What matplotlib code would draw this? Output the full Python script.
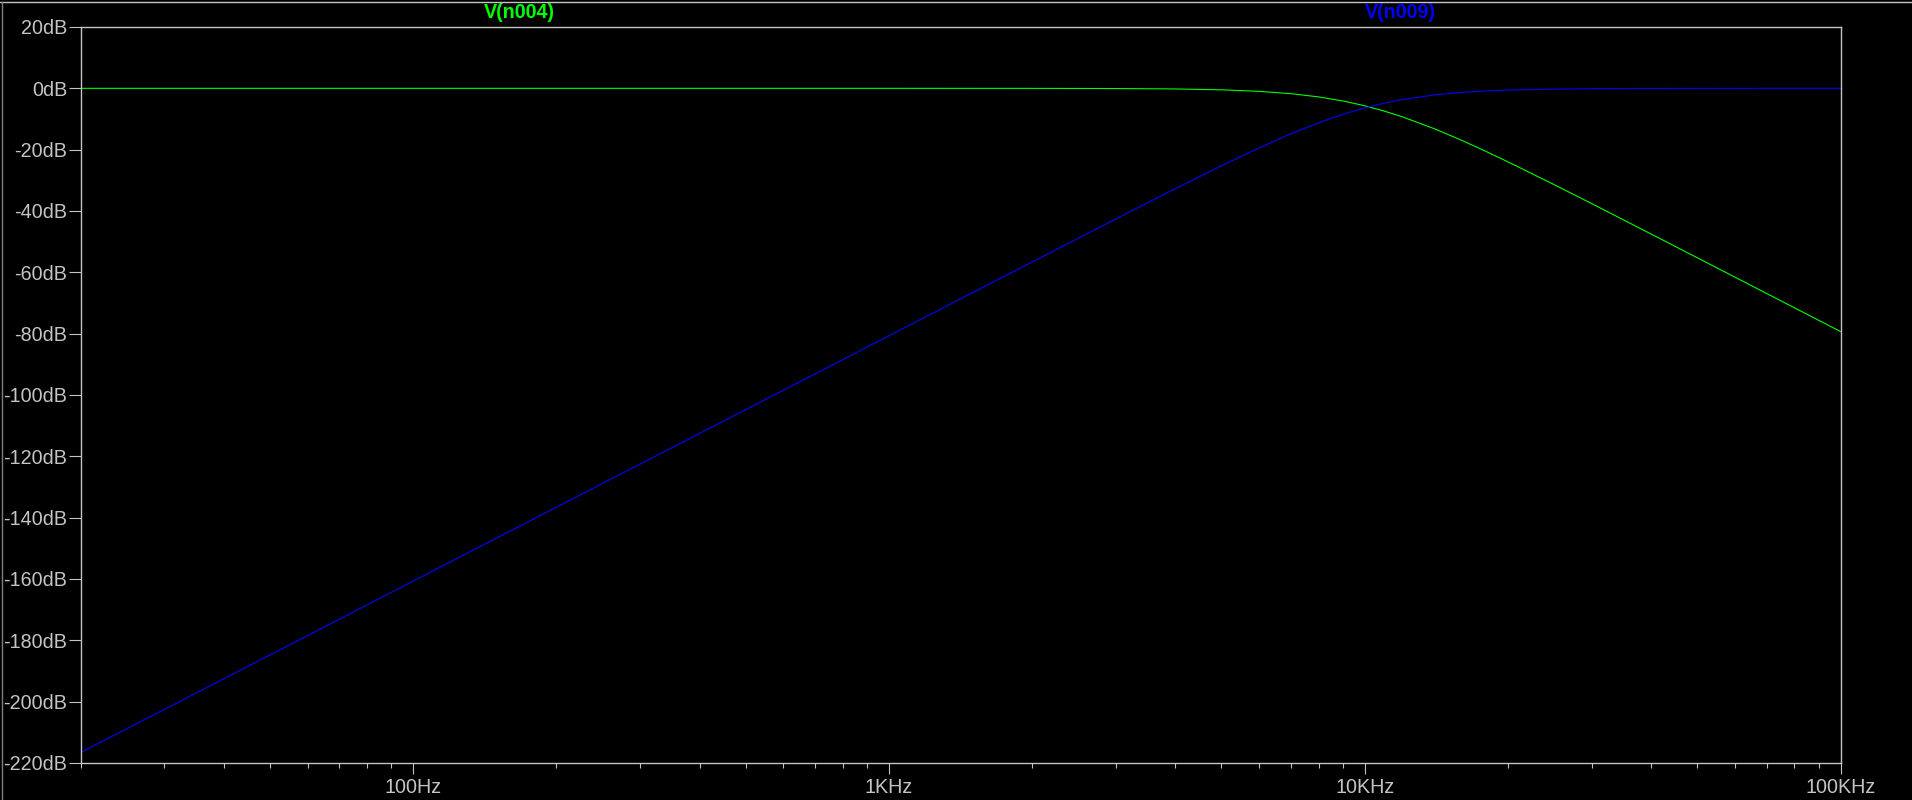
import matplotlib
matplotlib.use("Agg")
import matplotlib.pyplot as plt
from matplotlib.ticker import FixedLocator, FixedFormatter, NullFormatter
from matplotlib.lines import Line2D

# ---- data ----
freq_hz = [20, 50, 100, 200, 500, 1000, 2000, 3000, 4000, 5000, 6000, 7000,
           8000, 9000, 10000, 11000, 12000, 14000, 16000, 18000, 20000,
           25000, 30000, 40000, 50000, 70000, 100000]
v_n004_db = [0.0, 0.0, 0.0, 0.0, 0.0, 0.0, -0.01, -0.07, -0.20, -0.49, -0.98, -1.74,
             -2.79, -4.12, -5.68, -7.43, -9.29, -13.16, -16.97, -20.59, -23.97,
             -31.39, -37.59, -47.52, -55.24, -66.92, -79.31]
v_n009_db = [-216.6, -184.8, -160.7, -136.6, -104.8, -80.7, -56.62, -42.58, -32.73,
             -25.26, -19.42, -14.82, -11.23, -8.47, -6.37, -4.81, -3.65, -2.16,
             -1.33, -0.85, -0.57, -0.24, -0.12, -0.04, -0.02, 0.0, 0.0]
trace_names = ["V(n004)", "V(n009)"]
trace_colors = ["#00ff00", "#0000ff"]

y_ticks = list(range(20, -221, -20))
y_tick_labels = [f"{v}dB" for v in y_ticks]
x_major = [100, 1000, 10000, 100000]
x_major_labels = ["100Hz", "1KHz", "10KHz", "100KHz"]
x_minor = [m * d for d in (10, 100, 1000, 10000) for m in range(2, 10) if 20 <= m * d <= 100000]

# ---- figure ----
W, H = 1912, 800
fig = plt.figure(figsize=(W / 100, H / 100), dpi=100, facecolor="black")
L, R, T, B = 80.5, 1840.5, 27, 763
ax = fig.add_axes([L / W, (H - B) / H, (R - L) / W, (B - T) / H], facecolor="black")

grey = "#c4c4c4"
ax.semilogx(freq_hz, v_n004_db, color=trace_colors[0], lw=0.8)
ax.semilogx(freq_hz, v_n009_db, color=trace_colors[1], lw=0.8)

ax.set_xlim(20, 100000)
ax.set_ylim(-220, 20)

for s in ax.spines.values():
    s.set_color(grey)
    s.set_linewidth(1.0)

font = ["Liberation Sans", "DejaVu Sans"]
fs = 14.2
ax.yaxis.set_major_locator(FixedLocator(y_ticks))
ax.yaxis.set_major_formatter(FixedFormatter(y_tick_labels))
ax.xaxis.set_major_locator(FixedLocator(x_major))
ax.xaxis.set_major_formatter(FixedFormatter(x_major_labels))
ax.xaxis.set_minor_locator(FixedLocator(x_minor))
ax.xaxis.set_minor_formatter(NullFormatter())
ax.yaxis.set_minor_locator(FixedLocator([]))

ax.tick_params(axis="y", which="major", direction="out", length=8.6, width=0.8,
               color=grey, labelcolor=grey, labelsize=fs, pad=1)
ax.tick_params(axis="x", which="major", direction="out", length=8, width=0.8,
               color=grey, labelcolor=grey, labelsize=fs, pad=2.5)
ax.tick_params(axis="x", which="minor", direction="out", length=3.6, width=0.8,
               color=grey)
for lab in ax.get_xticklabels() + ax.get_yticklabels():
    lab.set_family(font)

# trace labels above the plot
ax.text(519 / W, 1 - 13 / H, trace_names[0], transform=fig.transFigure, color=trace_colors[0],
        ha="center", va="center", fontsize=fs, fontweight="bold", family=font)
ax.text(1400 / W, 1 - 13 / H, trace_names[1], transform=fig.transFigure, color=trace_colors[1],
        ha="center", va="center", fontsize=fs, fontweight="bold", family=font)

# window border lines (top and left)
fig.add_artist(Line2D([0, 1], [1 - 1.5 / H, 1 - 1.5 / H], transform=fig.transFigure,
                      color=grey, lw=1.0))
fig.add_artist(Line2D([2 / W, 2 / W], [0, 1 - 1.5 / H], transform=fig.transFigure,
                      color="#808080", lw=1.0))

fig.savefig("out.png", dpi=100, facecolor="black")
